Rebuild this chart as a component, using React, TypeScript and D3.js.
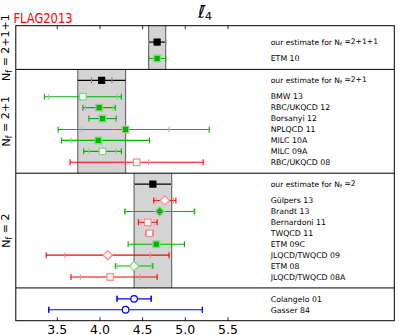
import React from 'react';
import * as d3 from 'd3';

// panels: Nf labels, our estimates (value, total error, stat error)
const panelLabels = ['2+1+1', '2+1', '2', ''];
const estimateValues = [4.67, 4.02, 4.62];
const estimateErrors = [0.10, 0.28, 0.22];
const estimateStat = [0.10, 0.12, 0.22];

// individual results
const labels = [
  'ETM 10',
  'BMW 13', 'RBC/UKQCD 12', 'Borsanyi 12', 'NPLQCD 11', 'MILC 10A', 'MILC 09A', 'RBC/UKQCD 08',
  'Gülpers 13', 'Brandt 13', 'Bernardoni 11', 'TWQCD 11', 'ETM 09C', 'JLQCD/TWQCD 09', 'ETM 08', 'JLQCD/TWQCD 08A',
  'Colangelo 01', 'Gasser 84',
];
const panelOf = [0, 1, 1, 1, 1, 1, 1, 1, 2, 2, 2, 2, 2, 2, 2, 2, 3, 3];
const values = [4.67, 3.80, 3.99, 4.03, 4.30, 3.98, 4.03, 4.43, 4.76, 4.70, 4.56, 4.58, 4.66, 4.09, 4.40, 4.12, 4.40, 4.30];
const statLo = [0.03, 0.40, 0.16, 0.03, 0.51, 0.32, 0.16, 0.14, 0.10, 0.40, 0.08, 0.03, 0.04, 0.50, 0.20, 0.35, 0.20, 0.90];
const statHi = [0.03, 0.40, 0.16, 0.03, 0.51, 0.60, 0.16, 0.14, 0.10, 0.40, 0.08, 0.03, 0.04, 0.50, 0.20, 0.35, 0.20, 0.90];
const totLo = [0.10, 0.45, 0.19, 0.16, 0.79, 0.43, 0.22, 0.78, 0.13, 0.41, 0.11, 0.04, 0.33, 0.72, 0.22, 0.46, 0.20, 0.90];
const totHi = [0.10, 0.45, 0.19, 0.16, 0.98, 0.60, 0.22, 0.78, 0.13, 0.41, 0.11, 0.04, 0.33, 0.72, 0.22, 0.55, 0.20, 0.90];
const colours = ['g', 'g', 'g', 'g', 'g', 'g', 'g', 'r', 'r', 'g', 'r', 'r', 'g', 'r', 'g', 'r', 'b', 'b'];
const symbols = ['sq', 'sq', 'sq', 'sq', 'sq', 'sq', 'sq', 'sq', 'di', 'di', 'sq', 'sq', 'sq', 'di', 'di', 'sq', 'ci', 'ci'];
const filled = [1, 0, 1, 1, 1, 1, 0, 0, 0, 1, 0, 0, 1, 0, 0, 0, 0, 0];

const xTicks = [3.5, 4.0, 4.5, 5.0, 5.5];

const palette: Record<string, { main: string; light: string }> = {
  g: { main: '#00b400', light: '#80da80' },
  r: { main: '#ff0000', light: '#ff8c8c' },
  b: { main: '#0000ff', light: '#0000ff' },
};

const font = 'DejaVu Sans, sans-serif';

export default function App() {
  const W = 399, H = 335;
  const left = 15.8, right = 394.3;
  const x = d3.scaleLinear().domain([3.5, 5.0]).range([57.3, 185.3]);
  const y = d3.scaleLinear().domain([0, 27]).range([25.7, 320.7]);

  // row slots for each panel
  const panels: { top: number; bottom: number; est: number | null; rows: number[] }[] = [];
  let cursor = 0;
  panelLabels.forEach((_, p) => {
    const hasEst = p < estimateValues.length;
    const est = hasEst ? cursor + (p === 0 ? 1.5 : 1) : null;
    let slot = est !== null ? est + 1.5 : cursor + 1;
    const rows: number[] = [];
    panelOf.forEach((q, i) => {
      if (q === p) { rows[i] = slot; slot += 1; }
    });
    panels.push({ top: cursor, bottom: slot, est, rows });
    cursor = slot;
  });
  const rowOf = (i: number) => panels[panelOf[i]].rows[i];

  const top = y(0), bottom = y(cursor);

  const marker = (i: number, cx: number, cy: number) => {
    const c = palette[colours[i]];
    const fill = filled[i] ? c.main : '#fff';
    const stroke = filled[i] ? c.light : (colours[i] === 'b' ? c.main : c.light);
    if (symbols[i] === 'sq') {
      const s = 6.5;
      return <rect x={cx - s / 2} y={cy - s / 2} width={s} height={s} fill={fill} stroke={stroke} strokeWidth={1.3} />;
    }
    if (symbols[i] === 'di') {
      const s = 4.6;
      return <path d={`M${cx},${cy - s}L${cx + s},${cy}L${cx},${cy + s}L${cx - s},${cy}Z`} fill={fill} stroke={stroke} strokeWidth={1.3} />;
    }
    return <circle cx={cx} cy={cy} r={3.3} fill={fill} stroke={stroke} strokeWidth={1.2} />;
  };

  return (
    <svg width={W} height={H} style={{ position: 'absolute', left: 0, top: 0 }} fontFamily={font}>
      <rect width={W} height={H} fill="#fff" />
      {/* bands */}
      {estimateValues.map((v, p) => (
        <g key={'band' + p}>
          <rect x={x(v - estimateErrors[p])} y={y(panels[p].top)} width={x(v + estimateErrors[p]) - x(v - estimateErrors[p])}
            height={y(panels[p].bottom) - y(panels[p].top)} fill="#d4d4d4" />
          <line x1={x(v - estimateErrors[p])} x2={x(v - estimateErrors[p])} y1={y(panels[p].top)} y2={y(panels[p].bottom)} stroke="#6e6e6e" strokeWidth={1.2} />
          <line x1={x(v + estimateErrors[p])} x2={x(v + estimateErrors[p])} y1={y(panels[p].top)} y2={y(panels[p].bottom)} stroke="#6e6e6e" strokeWidth={1.2} />
        </g>
      ))}
      {/* panel dividers and frame */}
      {panels.slice(1).map((p, k) => (
        <line key={'div' + k} x1={left} x2={right} y1={y(p.top)} y2={y(p.top)} stroke="#000" strokeWidth={1} />
      ))}
      <rect x={left} y={top} width={right - left} height={bottom - top} fill="none" stroke="#000" strokeWidth={1} />
      {/* ticks */}
      {xTicks.map(t => (
        <g key={'t' + t}>
          <line x1={x(t)} x2={x(t)} y1={top} y2={top + 3.5} stroke="#000" strokeWidth={0.8} />
          <line x1={x(t)} x2={x(t)} y1={bottom} y2={bottom - 3.5} stroke="#000" strokeWidth={0.8} />
          <text x={x(t)} y={333.5} textAnchor="middle" fontSize={12.5}>{t.toFixed(1)}</text>
        </g>
      ))}
      {/* estimates */}
      {estimateValues.map((v, p) => {
        const cy = y(panels[p].est as number);
        return (
          <g key={'est' + p}>
            <line x1={x(v - estimateErrors[p])} x2={x(v + estimateErrors[p])} y1={cy} y2={cy} stroke="#000" strokeWidth={1.2} />
            {[v - estimateStat[p], v + estimateStat[p]].map((e, k) => (
              <line key={k} x1={x(e)} x2={x(e)} y1={cy - 3} y2={cy + 3} stroke="#888" strokeWidth={1.2} />
            ))}
            <rect x={x(v) - 3.6} y={cy - 3.6} width={7.2} height={7.2} fill="#000" />
            <text x={270.7} y={cy} dy="0.35em" fontSize={7.6}>
              our estimate for N<tspan fontSize={5.5} dy="0.25em">f</tspan><tspan dy="-0.25em"> =</tspan>{panelLabels[p]}
            </text>
          </g>
        );
      })}
      {/* results */}
      {labels.map((lab, i) => {
        const cy = y(rowOf(i));
        const v = values[i];
        const c = palette[colours[i]];
        const lo = x(v - totLo[i]), hi = x(v + totHi[i]);
        return (
          <g key={lab}>
            <line x1={lo} x2={hi} y1={cy} y2={cy} stroke={c.main} strokeWidth={1.1} />
            {[v - statLo[i], v + statHi[i]].map((e, k) => (
              <line key={'s' + k} x1={x(e)} x2={x(e)} y1={cy - 3} y2={cy + 3} stroke={c.light} strokeWidth={1.1} />
            ))}
            {[lo, hi].map((e, k) => (
              <line key={'t' + k} x1={e} x2={e} y1={cy - 3} y2={cy + 3} stroke={c.main} strokeWidth={1.1} />
            ))}
            {marker(i, x(v), cy)}
            <text x={270.7} y={cy} dy="0.35em" fontSize={7.8}>{lab}</text>
          </g>
        );
      })}
      {/* Nf labels */}
      {panels.map((p, k) => panelLabels[k] ? (
        <text key={'nf' + k} transform={`translate(9.5,${(y(p.top) + y(p.bottom)) / 2}) rotate(-90)`} textAnchor="middle" fontSize={11}>
          N<tspan fontSize={8} dy="0.25em">f</tspan><tspan dy="-0.25em"> = {panelLabels[k]}</tspan>
        </text>
      ) : null)}
      {/* title and tag */}
      <text x={205} y={18} fontSize={17} fontStyle="italic" textAnchor="middle">
        {'\u2113\u0304'}<tspan fontSize={11} fontStyle="normal" dy="2">4</tspan>
      </text>
      <text x={13.5} y={23} fontSize={14} fill="#ff0000" textLength={59} lengthAdjust="spacingAndGlyphs">FLAG2013</text>
    </svg>
  );
}
